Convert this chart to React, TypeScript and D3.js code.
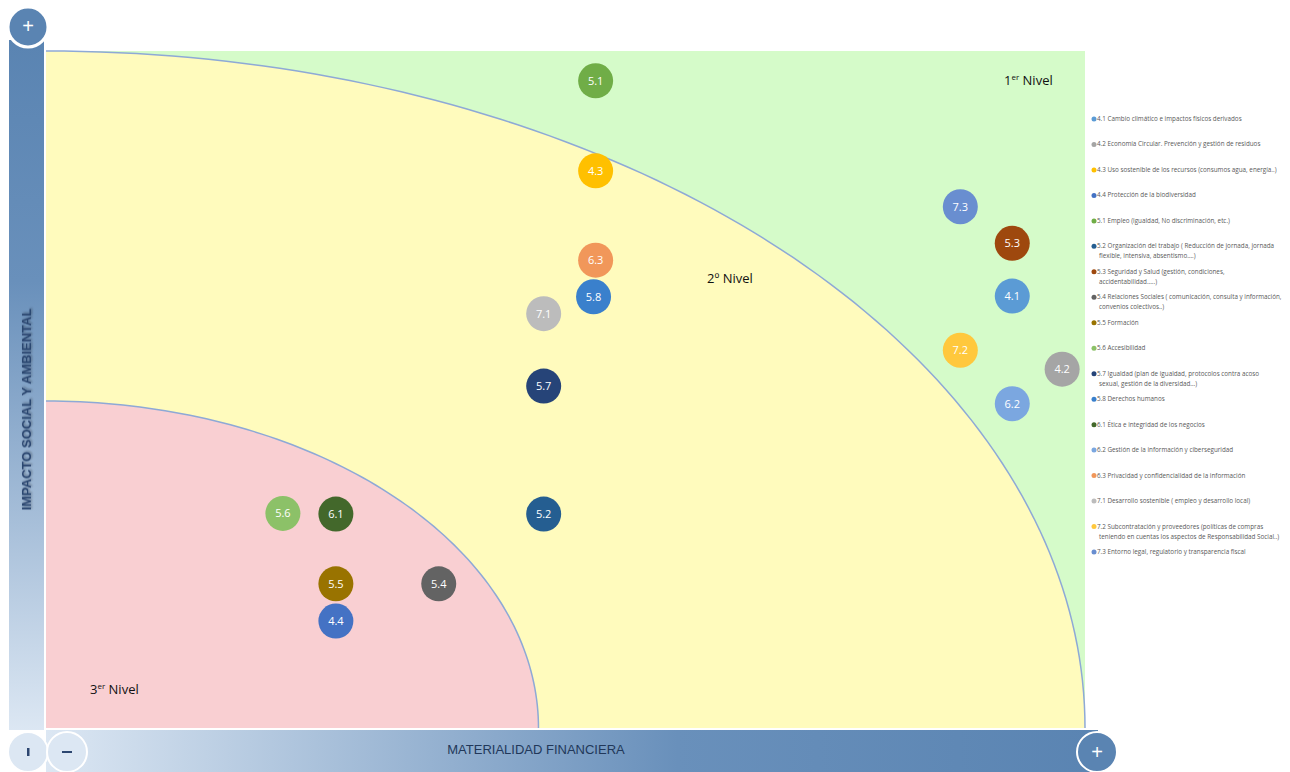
import React from "react";
import * as d3 from "d3";

const ids = ["5.1","4.3","6.3","5.8","7.1","5.7","5.2","5.6","6.1","5.5","4.4","5.4","7.3","5.3","4.1","7.2","4.2","6.2"];
const finValues = [5.29,5.29,5.29,5.27,4.79,4.79,4.79,2.28,2.79,2.79,2.79,3.78,8.80,9.30,9.30,8.80,9.78,9.30];
const impactValues = [9.56,8.23,6.91,6.37,6.12,5.05,3.16,3.17,3.16,2.13,1.58,2.13,7.70,7.16,6.38,5.58,5.30,4.79];
const colors: Record<string,string> = {
  "4.1":"#5b9bd5","4.2":"#a5a5a5","4.3":"#ffc000","4.4":"#4472c4",
  "5.1":"#70ad47","5.2":"#255e91","5.3":"#9e480e","5.4":"#636363",
  "5.5":"#997300","5.6":"#8cc168","5.7":"#264478","5.8":"#3a80cc",
  "6.1":"#43682b","6.2":"#7ba7e0","6.3":"#f1975a","7.1":"#bcbcbc",
  "7.2":"#ffc83d","7.3":"#698ed0"
};
const legendIds = ["4.1","4.2","4.3","4.4","5.1","5.2","5.3","5.4","5.5","5.6","5.7","5.8","6.1","6.2","6.3","7.1","7.2","7.3"];
const legendLabels: string[][] = [
  ["4.1 Cambio climático e impactos físicos derivados"],
  ["4.2 Economía Circular. Prevención y gestión de residuos"],
  ["4.3 Uso sostenible de los recursos (consumos agua, energía..)"],
  ["4.4 Protección de la biodiversidad"],
  ["5.1 Empleo (igualdad, No discriminación, etc.)"],
  ["5.2 Organización del trabajo ( Reducción de jornada, jornada", "flexible, intensiva, absentismo….)"],
  ["5.3 Seguridad y Salud (gestión,  condiciones,", "accidentabilidad…..)"],
  ["5.4 Relaciones Sociales ( comunicación, consulta y información,", "convenios colectivos..)"],
  ["5.5 Formación"],
  ["5.6 Accesibilidad"],
  ["5.7 Igualdad (plan de igualdad,  protocolos contra acoso", "sexual, gestión de la diversidad…)"],
  ["5.8 Derechos humanos"],
  ["6.1 Ética e integridad de los negocios"],
  ["6.2 Gestión de la información y ciberseguridad"],
  ["6.3 Privacidad y confidencialidad de la información"],
  ["7.1 Desarrollo sostenible ( empleo y desarrollo local)"],
  ["7.2 Subcontratación  y proveedores (políticas de compras", "teniendo en cuentas los aspectos de Responsabilidad Social..)"],
  ["7.3 Entorno legal, regulatorio y transparencia fiscal"]
];
// zone radii in data units: [financial, impact]
const zoneRadiiX = [10, 4.74];
const zoneRadiiY = [10, 4.83];
const zoneColors = ["#fffbbd", "#f9cfd2"];
const xAxisTitle = "MATERIALIDAD FINANCIERA";
const yAxisTitle = "IMPACTO SOCIAL Y AMBIENTAL";

const W = 1290, H = 772;
const L = 46, R = 1085, T = 51, B = 728;

export default function App() {
  const x = d3.scaleLinear().domain([0, 10]).range([L, R]);
  const y = d3.scaleLinear().domain([0, 10]).range([B, T]);
  const ox = x(0), oy = y(0);

  const arcPts = (i: number) => {
    const rx = x(zoneRadiiX[i]) - ox, ry = oy - y(zoneRadiiY[i]);
    return d3.range(0, 91).map((a) => {
      const t = (a * Math.PI) / 180;
      return [ox + rx * Math.cos(t), oy - ry * Math.sin(t)] as [number, number];
    });
  };
  const zonePath = (i: number) =>
    "M" + ox + "," + oy + "L" + arcPts(i).map((p) => p.join(",")).join("L") + "Z";
  const arcPath = (i: number) => d3.line()(arcPts(i)) || "";

  const legY = d3.scaleLinear().domain([0, legendIds.length - 1]).range([121, 554]);

  return (
    <svg width={W} height={H} style={{ position: "fixed", left: 0, top: 0, background: "#fff" }} fontFamily="'Open Sans', sans-serif">
      <defs>
        <linearGradient id="vbar" x1="0" y1="0" x2="0" y2="1">
          <stop offset="0" stopColor="#5a84b2" />
          <stop offset="0.35" stopColor="#6990bb" />
          <stop offset="1" stopColor="#dce7f3" />
        </linearGradient>
        <linearGradient id="hbar" x1="0" y1="0" x2="1" y2="0">
          <stop offset="0" stopColor="#dce7f3" />
          <stop offset="0.6" stopColor="#6990bb" />
          <stop offset="1" stopColor="#5a84b2" />
        </linearGradient>
        <filter id="sh" x="-10%" y="-10%" width="130%" height="130%">
          <feDropShadow dx="1" dy="1" stdDeviation="0.8" floodColor="#000" floodOpacity="0.35" />
        </filter>
      </defs>

      {/* plot background */}
      <rect x={L} y={T} width={R - L} height={B - T} fill="#d5fbc9" />
      {zoneColors.map((c, i) => (
        <path key={"z" + i} d={zonePath(i)} fill={c} />
      ))}
      {zoneColors.map((c, i) => (
        <path key={"a" + i} d={arcPath(i)} fill="none" stroke="#8ea9d6" strokeWidth={1.5} />
      ))}

      {/* level labels */}
      <text x={1004} y={85} fontSize={13} fill="#111">1<tspan fontSize={8} dy={-5}>er</tspan><tspan dy={5}> Nivel</tspan></text>
      <text x={707} y={283} fontSize={13} fill="#111">2º Nivel</text>
      <text x={90} y={694} fontSize={13} fill="#111">3<tspan fontSize={8} dy={-5}>er</tspan><tspan dy={5}> Nivel</tspan></text>

      {/* vertical axis bar */}
      <rect x={9} y={40} width={35} height={690} fill="url(#vbar)" />
      <text transform={`translate(31,${(T + B) / 2 + 20}) rotate(-90)`} textAnchor="middle" fontSize={13} fontWeight="bold"
        fill="#2c4670" fontFamily="'Liberation Sans', Arial, sans-serif" filter="url(#sh)">{yAxisTitle}</text>
      <circle cx={28} cy={27} r={20} fill="#5a84b2" stroke="#fff" strokeWidth={3} />
      <text x={28} y={33} textAnchor="middle" fontSize={20} fill="#fff" fontFamily="'Liberation Sans', Arial">+</text>

      {/* horizontal axis bar */}
      <rect x={46} y={730} width={1052} height={42} fill="url(#hbar)" />
      <text x={536} y={754} textAnchor="middle" fontSize={13} fill="#22385a" fontFamily="'Liberation Sans', Arial, sans-serif">{xAxisTitle}</text>
      <circle cx={28} cy={752} r={20} fill="#dce7f3" stroke="#fff" strokeWidth={2} />
      <rect x={27} y={748} width={2.5} height={8} fill="#2c4670" />
      <circle cx={67} cy={752} r={20} fill="#dce7f3" stroke="#fff" strokeWidth={2} />
      <rect x={62} y={751} width={10} height={2} fill="#2c4670" />
      <circle cx={1097} cy={752} r={20} fill="#5a84b2" stroke="#fff" strokeWidth={2} />
      <text x={1097} y={759} textAnchor="middle" fontSize={20} fill="#fff" fontFamily="'Liberation Sans', Arial">+</text>

      {/* bubbles */}
      {ids.map((id, i) => (
        <g key={id}>
          <circle cx={x(finValues[i])} cy={y(impactValues[i])} r={17.5} fill={colors[id]} />
          <text x={x(finValues[i])} y={y(impactValues[i]) + 4} textAnchor="middle" fontSize={11} fill="#fff">{id}</text>
        </g>
      ))}

      {/* legend */}
      {legendIds.map((id, i) => (
        <g key={"l" + id}>
          <circle cx={1094} cy={legY(i) - 2} r={2.5} fill={colors[id]} />
          {legendLabels[i].map((line, j) => (
            <text key={j} x={j === 0 ? 1097 : 1099} y={legY(i) + j * 10} fontSize={6.3} fill="#595959">{line}</text>
          ))}
        </g>
      ))}
    </svg>
  );
}
